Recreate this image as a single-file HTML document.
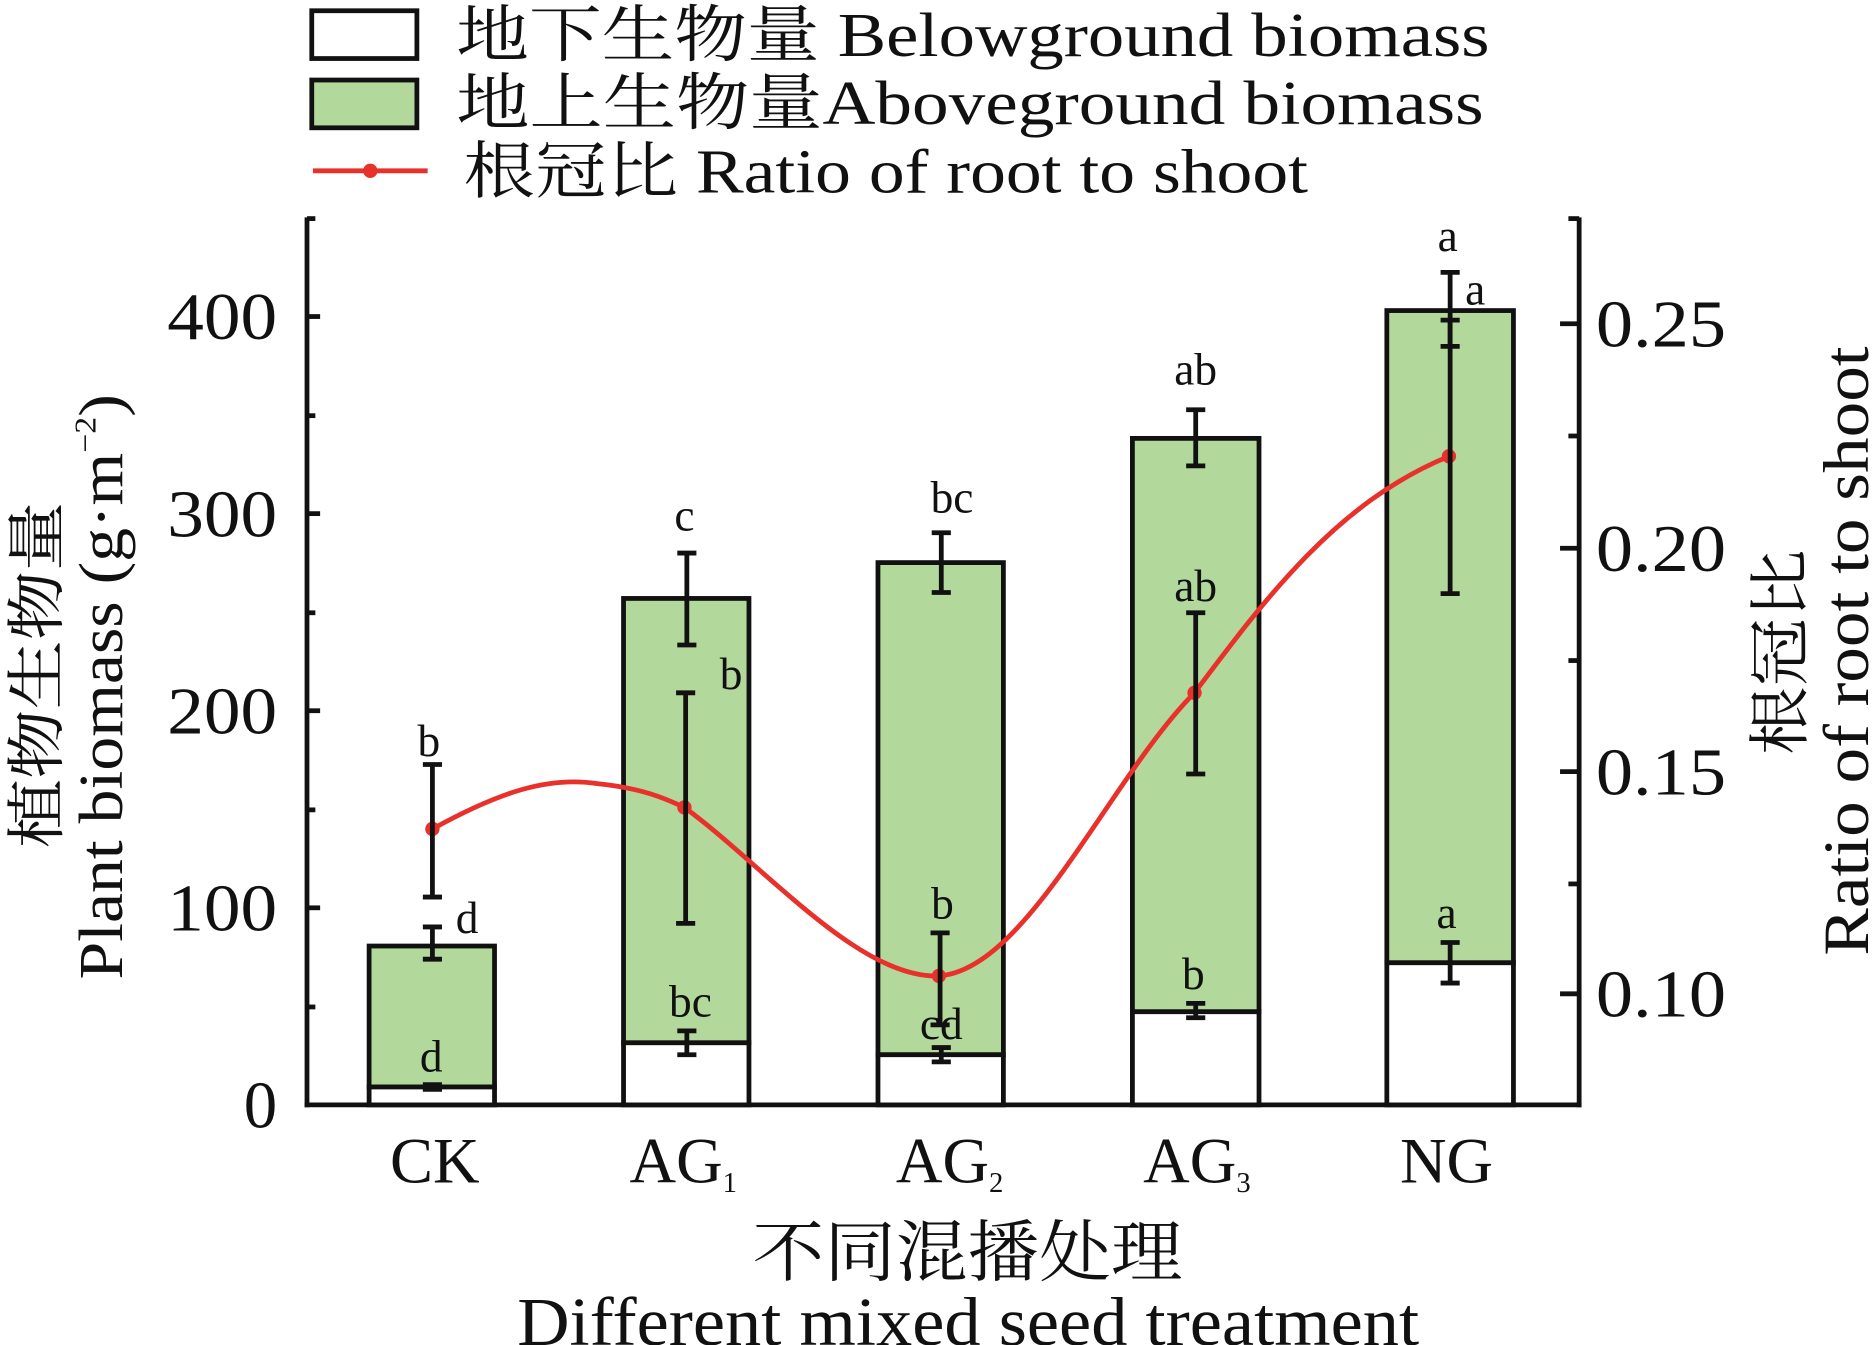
<!DOCTYPE html>
<html><head><meta charset="utf-8"><style>
html,body{margin:0;padding:0;background:#fff;}
svg{display:block;}
text{font-family:"Liberation Serif","Noto Serif CJK SC","Noto Sans CJK SC",serif;fill:#111;}
</style></head><body>
<svg width="1873" height="1345" viewBox="0 0 1568 1126" preserveAspectRatio="none" xmlns="http://www.w3.org/2000/svg">
<rect width="1568" height="1126" fill="#fff"/>
<!-- legend -->
<rect x="261" y="9" width="88" height="40" fill="#fff" stroke="#111" stroke-width="4"/>
<rect x="261" y="67" width="88" height="40" fill="#b3d89c" stroke="#111" stroke-width="4"/>
<line x1="262" y1="143" x2="358" y2="143" stroke="#e8312a" stroke-width="4"/>
<circle cx="310" cy="143" r="6" fill="#e8312a"/>
<text x="382" y="47" font-size="52" textLength="865" lengthAdjust="spacingAndGlyphs">地下生物量 Belowground biomass</text>
<text x="382" y="104" font-size="52" textLength="860" lengthAdjust="spacingAndGlyphs">地上生物量Aboveground biomass</text>
<text x="388" y="161" font-size="52" textLength="707" lengthAdjust="spacingAndGlyphs">根冠比 Ratio of root to shoot</text>
<!-- axes -->
<g stroke="#111" stroke-width="4" fill="none">
<line x1="257" y1="182" x2="257" y2="927"/>
<line x1="255" y1="925" x2="1324" y2="925"/>
<line x1="1322" y1="182" x2="1322" y2="927"/>
<line x1="257" y1="760" x2="268" y2="760"/><line x1="257" y1="595" x2="268" y2="595"/><line x1="257" y1="430" x2="268" y2="430"/><line x1="257" y1="265" x2="268" y2="265"/>
<line x1="257" y1="843" x2="264" y2="843"/><line x1="257" y1="678" x2="264" y2="678"/><line x1="257" y1="513" x2="264" y2="513"/><line x1="257" y1="348" x2="264" y2="348"/><line x1="257" y1="183" x2="264" y2="183"/>
<line x1="1306" y1="271" x2="1322" y2="271"/><line x1="1306" y1="459" x2="1322" y2="459"/><line x1="1306" y1="646" x2="1322" y2="646"/><line x1="1306" y1="832" x2="1322" y2="832"/>
<line x1="1313" y1="365" x2="1322" y2="365"/><line x1="1313" y1="553" x2="1322" y2="553"/><line x1="1313" y1="740" x2="1322" y2="740"/><line x1="1313" y1="183" x2="1322" y2="183"/>
</g>
<g font-size="56" text-anchor="end">
<text x="232" y="944">0</text><text x="232" y="779" textLength="92" lengthAdjust="spacingAndGlyphs">100</text><text x="232" y="614" textLength="92" lengthAdjust="spacingAndGlyphs">200</text><text x="232" y="449" textLength="92" lengthAdjust="spacingAndGlyphs">300</text><text x="232" y="284" textLength="92" lengthAdjust="spacingAndGlyphs">400</text>
</g>
<g font-size="56">
<text x="1336" y="290" textLength="109" lengthAdjust="spacingAndGlyphs">0.25</text><text x="1336" y="478" textLength="109" lengthAdjust="spacingAndGlyphs">0.20</text><text x="1336" y="665" textLength="109" lengthAdjust="spacingAndGlyphs">0.15</text><text x="1336" y="851" textLength="109" lengthAdjust="spacingAndGlyphs">0.10</text>
</g>
<!-- bars -->
<g stroke="#111" stroke-width="4">
<rect x="309" y="792" width="105" height="118" fill="#b3d89c"/><rect x="309" y="910" width="105" height="15" fill="#fff"/>
<rect x="522" y="501" width="105" height="372" fill="#b3d89c"/><rect x="522" y="873" width="105" height="52" fill="#fff"/>
<rect x="735" y="471" width="105" height="412" fill="#b3d89c"/><rect x="735" y="883" width="105" height="42" fill="#fff"/>
<rect x="948" y="367" width="106" height="480" fill="#b3d89c"/><rect x="948" y="847" width="106" height="78" fill="#fff"/>
<rect x="1161" y="260" width="106" height="546" fill="#b3d89c"/><rect x="1161" y="806" width="106" height="119" fill="#fff"/>
</g>
<!-- red line -->
<path d="M362,694 C420,662 460,650 500,656 C540,660 560,670 573,676 C640,725 720,820 786,817 C860,812 930,650 1000,580 C1060,500 1120,420 1213,382" fill="none" stroke="#e8312a" stroke-width="4"/>
<g fill="#e8312a"><circle cx="362" cy="694" r="6"/><circle cx="573" cy="676" r="6"/><circle cx="786" cy="817" r="6"/><circle cx="1000" cy="580" r="6"/><circle cx="1213" cy="382" r="6"/></g>
<!-- error bars -->
<g stroke="#111" stroke-width="4">
<path d="M362,776V803M354,776H370M354,803H370"/>
<path d="M362,908V912M354,908H370M354,912H370"/>
<path d="M575,463V540M567,463H583M567,540H583"/>
<path d="M575,863V883M567,863H583M567,883H583"/>
<path d="M788,446V496M780,446H796M780,496H796"/>
<path d="M788,877V889M780,877H796M780,889H796"/>
<path d="M1001,343V390M993,343H1009M993,390H1009"/>
<path d="M1001,840V852M993,840H1009M993,852H1009"/>
<path d="M1214,228V290M1206,228H1222M1206,290H1222"/>
<path d="M1214,789V823M1206,789H1222M1206,823H1222"/>
<path d="M362,640V751M354,640H370M354,751H370"/>
<path d="M574,580V773M566,580H582M566,773H582"/>
<path d="M787,781V858M779,781H795M779,858H795"/>
<path d="M1001,513V648M993,513H1009M993,648H1009"/>
<path d="M1214,268V497M1206,268H1222M1206,497H1222"/>
</g>
<!-- letters -->
<g font-size="38" text-anchor="middle">
<text x="359" y="633">b</text><text x="391" y="781">d</text><text x="361" y="897">d</text>
<text x="573" y="444">c</text><text x="612" y="577">b</text><text x="578" y="851">bc</text>
<text x="797" y="429">bc</text><text x="789" y="769">b</text><text x="788" y="870">cd</text>
<text x="1001" y="322">ab</text><text x="1001" y="503">ab</text><text x="999" y="828">b</text>
<text x="1212" y="210">a</text><text x="1235" y="255">a</text><text x="1211" y="777">a</text>
</g>
<!-- x labels -->
<g font-size="54" text-anchor="middle">
<text x="364" y="990">CK</text>
<text x="572" y="990">AG<tspan font-size="24" dy="8">1</tspan></text>
<text x="795" y="990">AG<tspan font-size="24" dy="8">2</tspan></text>
<text x="1002" y="990">AG<tspan font-size="24" dy="8">3</tspan></text>
<text x="1211" y="990">NG</text>
</g>
<text x="630" y="1068" font-size="56" textLength="360" lengthAdjust="spacingAndGlyphs">不同混播处理</text>
<text x="433" y="1126" font-size="58" textLength="755" lengthAdjust="spacingAndGlyphs">Different mixed seed treatment</text>
<!-- y titles -->
<text transform="translate(48,710) rotate(-90)" font-size="50" textLength="290" lengthAdjust="spacingAndGlyphs">植物生物量</text>
<text transform="translate(102,820) rotate(-90)" font-size="52" textLength="490" lengthAdjust="spacingAndGlyphs">Plant biomass (g·m<tspan font-size="26" dy="-22">−2</tspan><tspan dy="22">)</tspan></text>
<text transform="translate(1508,632) rotate(-90)" font-size="52" textLength="172" lengthAdjust="spacingAndGlyphs">根冠比</text>
<text transform="translate(1564,800) rotate(-90)" font-size="54" textLength="510" lengthAdjust="spacingAndGlyphs">Ratio of root to shoot</text>
</svg>
</body></html>
